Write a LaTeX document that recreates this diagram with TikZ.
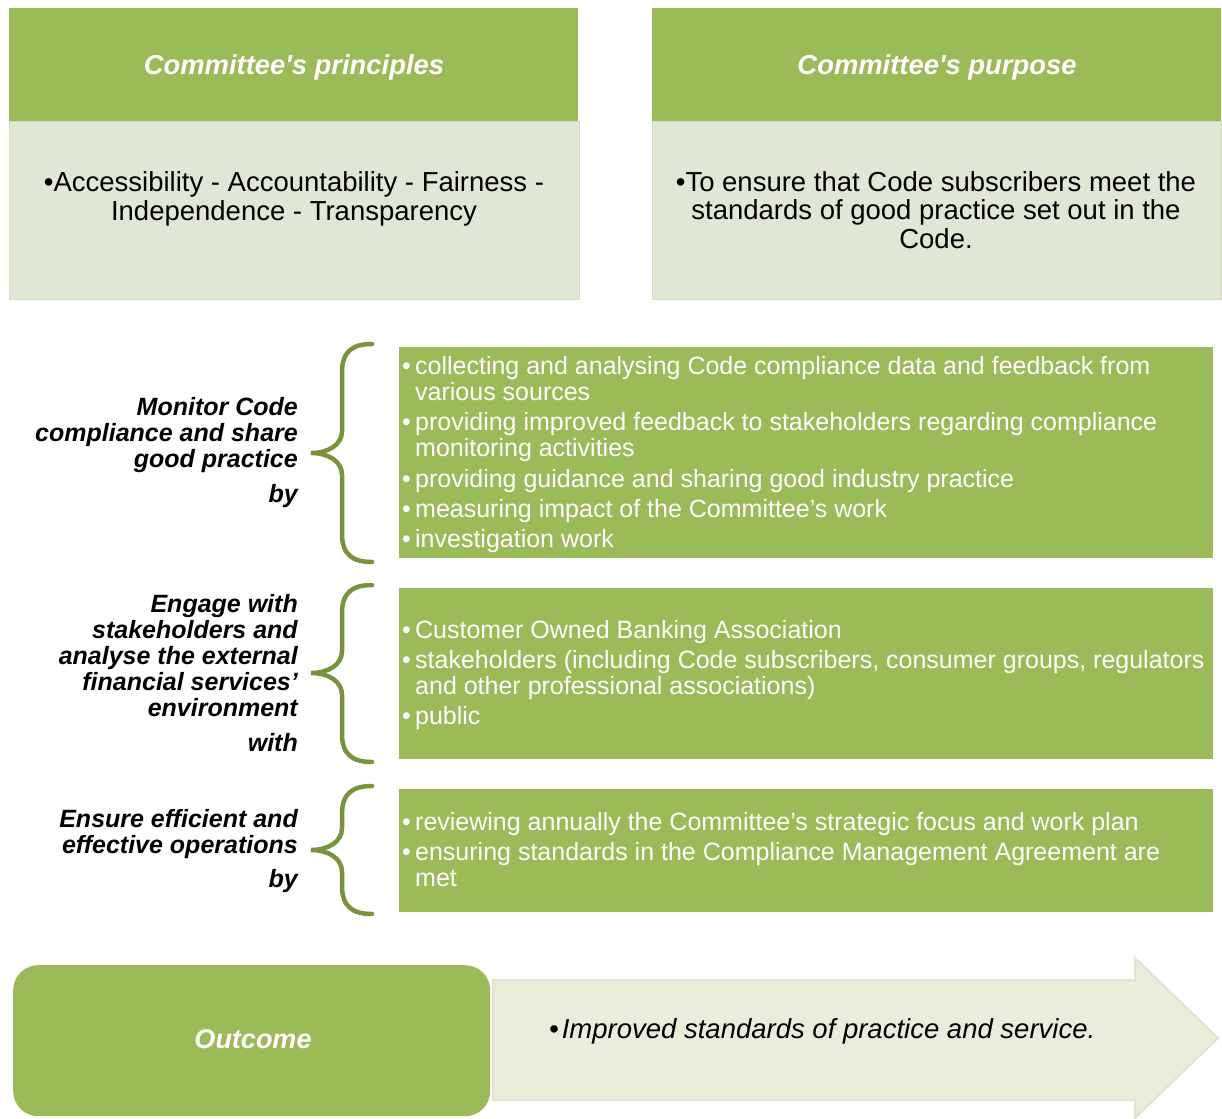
\documentclass[tikz,border=0pt]{standalone}
\usepackage{fontspec}
\setmainfont{Liberation Sans}[Ligatures=TeXOff]
\definecolor{hdrgreen}{HTML}{9BBB59}
\definecolor{paleback}{HTML}{E0E7D4}
\definecolor{paleedge}{HTML}{D3DEC4}
\definecolor{bracegreen}{HTML}{77933C}
\definecolor{arrowfill}{HTML}{EBECDC}
\definecolor{arrowedge}{HTML}{DCE7D0}
\newcommand\bul{\makebox[13pt][l]{\textbullet}}
\newcommand\ind{\hspace*{13pt}}
% curly brace: #1 top y, #2 tip y, #3 bottom y
\newcommand\curly[3]{%
  (372,#1) .. controls (352,#1) and (342,{#1+8}) .. (342,{#1+28})
  -- (342,{#2-22}) .. controls (342,{#2-8}) and (328,#2) .. (311,#2)
  .. controls (328,#2) and (342,{#2+8}) .. (342,{#2+22})
  -- (342,{#3-28}) .. controls (342,{#3-8}) and (352,#3) .. (372,#3)}
\begin{document}
\begin{tikzpicture}[x=1pt,y=-1pt,
  hdr/.style={fill=hdrgreen, draw=none, inner sep=0pt, anchor=north west},
  hdrfont/.style={text=white, inner sep=0pt, anchor=base,
    font=\fontsize{27.4}{30}\selectfont\bfseries\itshape},
  pale/.style={fill=paleback, draw=paleedge, line width=1.2pt, inner sep=0pt, anchor=north west},
  palefont/.style={font=\fontsize{27.5}{28.5}\selectfont, align=center, inner sep=0pt, anchor=base},
  listbox/.style={fill=hdrgreen, draw=none, inner sep=0pt, anchor=north west},
  listfont/.style={font=\fontsize{25}{26}\selectfont, text=white, align=left, inner sep=0pt, anchor=base west},
  sidelabel/.style={font=\fontsize{25}{26}\selectfont\bfseries\itshape, align=right, inner sep=0pt, anchor=base east},
  bracestyle/.style={draw=bracegreen, line width=4.5pt, line cap=round}
]
\useasboundingbox (0,0) rectangle (1222,1118);

% top panels
\node[hdr, minimum width=569pt, minimum height=113pt] (hdrL) at (9,8) {};
\node[pale, minimum width=570pt, minimum height=178pt] (bodyL) at (9,121) {};
\node[hdr, minimum width=569pt, minimum height=113pt] (hdrR) at (652,8) {};
\node[pale, minimum width=569pt, minimum height=178pt] (bodyR) at (652,121) {};
\node[hdrfont] (hdrLtxt) at (294,75) {Committee's principles};
\node[hdrfont] (hdrRtxt) at (937,75) {Committee's purpose};
\node[palefont] (txtL) at (294,220)
  {\textbullet Accessibility - Accountability - Fairness -\\Independence - Transparency};
\node[palefont] (txtR) at (936,248)
  {\textbullet To ensure that Code subscribers meet the\\standards of good practice set out in the\\Code.};

% activity boxes
\node[listbox, minimum width=814pt, minimum height=211pt] (box1) at (399,347) {};
\node[listbox, minimum width=814pt, minimum height=171pt] (box2) at (399,588) {};
\node[listbox, minimum width=814pt, minimum height=123pt] (box3) at (399,789) {};

\node[listfont] (list1) at (402,547)
  {\bul collecting and analysing Code compliance data and feedback from\\
   \ind various sources\\[4pt]
   \bul providing improved feedback to stakeholders regarding compliance\\
   \ind monitoring activities\\[5pt]
   \bul providing guidance and sharing good industry practice\\[4pt]
   \bul measuring impact of the Committee’s work\\[4pt]
   \bul investigation work};
\node[listfont] (list2) at (402,724)
  {\bul Customer Owned Banking Association\\[4pt]
   \bul stakeholders (including Code subscribers, consumer groups, regulators\\
   \ind and other professional associations)\\[4pt]
   \bul public};
\node[listfont] (list3) at (402,886)
  {\bul reviewing annually the Committee’s strategic focus and work plan\\[4pt]
   \bul ensuring standards in the Compliance Management Agreement are\\
   \ind met};

% side labels
\node[sidelabel] (lab1) at (298,502)
  {Monitor Code\\compliance and share\\good practice\\[9pt]by};
\node[sidelabel] (lab2) at (298,751)
  {Engage with\\stakeholders and\\analyse the external\\financial services’\\environment\\[9pt]with};
\node[sidelabel] (lab3) at (298,887)
  {Ensure efficient and\\effective operations\\[8pt]by};

% braces
\draw[bracestyle] \curly{344}{453}{562};
\draw[bracestyle] \curly{585}{673}{762};
\draw[bracestyle] \curly{786}{850}{914};

% outcome
\draw[draw=arrowedge, fill=arrowfill, line width=2pt]
  (493,980) -- (1135,980) -- (1135,958) -- (1218,1038) -- (1135,1118)
  -- (1135,1100) -- (493,1100) -- cycle;
\node[fill=hdrgreen, draw=none, rounded corners=25pt, inner sep=0pt,
  minimum width=477pt, minimum height=151pt, anchor=north west] (outc) at (13,965) {};
\node[text=white, font=\fontsize{27}{30}\selectfont\bfseries\itshape, inner sep=0pt, anchor=base]
  (outlab) at (253,1048) {Outcome};
\node[font=\fontsize{27.5}{30}\selectfont\itshape, inner sep=0pt, anchor=base west]
  (outtxt) at (549,1038) {\textbullet\hspace{3pt}Improved standards of practice and service.};
\end{tikzpicture}
\end{document}
